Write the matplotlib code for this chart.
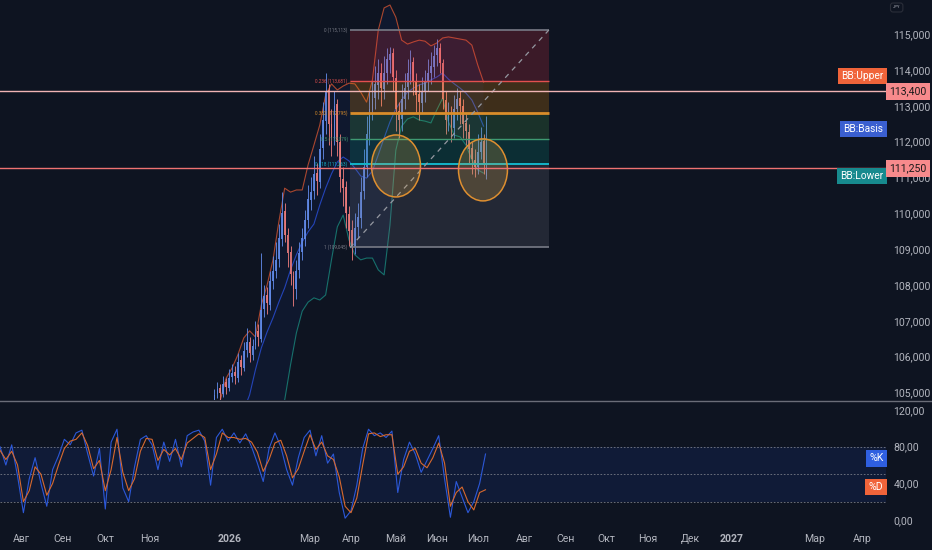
import numpy as np
import matplotlib
matplotlib.use('Agg')
import matplotlib.pyplot as plt
from matplotlib.patches import Ellipse
from matplotlib.lines import Line2D

plt.rcParams['font.family'] = ['Roboto', 'DejaVu Sans']

# ---------------- data ----------------
# time axis: trading-session index
month_pos = [11, 32, 54, 77, 118, 159, 180, 203, 224, 245, 269, 290, 311, 332, 354, 375, 418, 442]
month_lbl = ['Авг', 'Сен', 'Окт', 'Ноя', '2026', 'Мар', 'Апр', 'Май', 'Июн', 'Июл',
             'Авг', 'Сен', 'Окт', 'Ноя', 'Дек', '2027', 'Мар', 'Апр']

candle_start, candle_step = 110, 1.5
opens_k = [104.80,104.95,105.12,104.96,105.28,105.12,105.42,105.58,105.40,105.90,
           105.68,106.18,106.42,106.05,106.33,106.72,106.50,107.33,107.72,107.45,
           108.12,108.38,108.72,109.28,110.05,109.38,108.92,108.25,107.88,108.42,
           108.92,109.28,109.82,110.38,110.62,111.12,110.88,111.82,112.58,113.45,
           112.48,112.08,113.05,111.98,110.95,110.72,109.98,109.52,109.05,109.62,
           109.88,110.62,111.28,112.22,112.88,113.22,113.58,113.92,113.48,113.92,
           114.28,114.48,113.78,112.85,112.62,113.18,113.52,113.88,114.22,113.68,
           113.32,113.08,113.42,113.68,113.92,114.08,114.42,114.62,114.18,113.15,
           112.58,112.82,112.38,112.92,113.22,112.98,112.52,112.28,111.82,111.48,
           111.28,111.72,112.02,111.05]
highs_k = [105.10,105.30,105.25,105.45,105.40,105.65,105.80,105.75,106.10,106.05,
           106.40,106.80,106.55,106.50,107.00,106.90,108.90,108.00,107.95,108.40,
           108.80,109.20,109.70,110.60,110.30,109.60,109.10,108.40,108.70,109.20,
           109.60,110.10,110.80,111.00,111.60,111.40,112.20,113.10,113.90,113.60,
           112.90,113.40,113.20,112.20,111.30,110.90,110.20,109.80,110.00,110.30,
           111.00,111.80,112.70,113.40,113.70,114.10,114.30,114.20,114.40,114.60,
           114.65,114.60,114.00,113.10,113.60,113.90,114.30,114.55,114.35,113.90,
           113.60,113.80,114.00,114.30,114.50,114.70,114.85,114.75,114.30,113.40,
           113.10,113.00,113.30,113.50,113.40,113.20,112.80,112.50,112.00,111.80,
           112.20,112.40,112.20,112.70]
lows_k = [104.70,104.85,104.80,104.88,104.95,105.05,105.30,105.25,105.30,105.50,
          105.60,106.00,105.85,105.90,106.20,106.30,106.40,107.10,107.20,107.30,
          107.90,108.20,108.50,109.10,109.20,108.50,108.00,107.40,107.60,108.20,
          108.70,109.10,109.60,110.10,110.40,110.50,110.70,111.50,112.20,111.90,
          111.60,111.90,111.60,110.60,110.20,109.60,109.10,108.70,108.85,109.30,
          109.60,110.40,111.00,111.90,112.60,112.90,113.20,113.00,113.20,113.60,
          113.90,113.40,112.30,112.10,112.30,112.90,113.20,113.60,113.30,112.80,
          112.60,112.80,113.10,113.40,113.60,113.80,114.10,113.90,112.90,112.20,
          112.30,112.00,112.10,112.60,112.50,112.10,111.90,111.40,111.10,111.00,
          111.10,111.50,111.10,110.95]
closes_k = [104.93,105.10,104.98,105.25,105.15,105.40,105.55,105.45,105.85,105.70,
            106.15,106.40,106.10,106.30,106.70,106.55,107.30,107.70,107.50,108.10,
            108.40,108.70,109.30,110.00,109.40,108.90,108.30,107.90,108.40,108.90,
            109.30,109.80,110.40,110.60,111.10,110.90,111.80,112.60,113.40,112.50,
            112.10,113.00,112.00,111.00,110.70,110.00,109.50,109.10,109.60,109.90,
            110.60,111.30,112.20,112.90,113.20,113.60,113.90,113.50,113.90,114.30,
            114.45,113.80,112.90,112.60,113.20,113.50,113.90,114.20,113.70,113.30,
            113.10,113.40,113.70,113.90,114.10,114.40,114.60,114.20,113.20,112.60,
            112.80,112.40,112.90,113.20,113.00,112.50,112.30,111.80,111.50,111.30,
            111.70,112.00,111.40,111.25]

# Bollinger bands (every 3 sessions starting at candle_start)
bb_step = 3
bb_upper_k = [104.37,104.79,105.40,105.68,106.05,106.52,106.72,106.55,107.44,108.00,
              108.70,109.76,110.70,110.59,110.65,110.65,111.35,111.90,112.46,113.30,
              113.61,113.44,113.55,113.63,113.61,113.38,113.10,113.72,115.11,115.73,
              115.81,115.47,114.83,114.72,114.78,114.83,114.80,114.67,114.75,114.89,
              114.92,114.89,114.86,114.83,114.69,114.14,113.66]
bb_basis_k = [102.28,102.84,103.26,103.68,104.09,104.51,104.93,105.63,106.24,106.69,
              107.08,107.52,107.92,108.42,108.84,109.20,109.48,109.70,110.23,110.70,
              111.10,111.43,111.57,111.46,111.26,111.04,110.98,111.18,111.63,112.10,
              112.55,112.91,113.16,113.38,113.49,113.58,113.63,113.72,113.80,113.91,
              113.74,113.61,113.49,113.35,113.16,112.82,112.43]
bb_lower_k = [100.33,100.61,100.89,101.16,101.44,101.86,102.28,102.84,103.26,103.68,
              104.09,104.43,104.79,105.77,106.66,107.27,107.52,107.64,107.58,107.72,
              108.70,109.62,109.95,109.25,108.84,108.70,108.75,108.75,108.42,108.28,
              109.67,111.76,112.43,112.63,112.69,112.60,112.57,112.52,112.88,113.21,
              112.55,112.18,112.13,111.90,111.49,111.21,111.12]

# Fibonacci retracement
fib_start, fib_end = 179.5, 281.5
fib_high, fib_low = 115113, 109045
fib_levels = [115113, 113681, 112795, 112079, 111363, 109045]
fib_names = ['0', '0.236', '0.382', '0.5', '0.618', '1']

# highlighted zones (ellipses): session centre, price centre
circ_x = [203.1, 247.7]
circ_y = [111320, 111210]

# horizontal levels
level_hi, level_lo = 113400, 111250

# Stochastic (every 3 sessions from 0)
st_step = 3
stoch_k = [80,60,82,48,8,45,68,40,15,55,70,88,82,95,98,72,48,78,12,85,
           99,35,20,58,88,92,82,55,85,64,88,58,92,96,98,86,38,90,99,86,
           95,84,94,80,62,42,78,95,80,55,38,68,90,98,70,92,62,72,30,2,
           10,38,78,99,92,95,90,97,30,66,85,72,52,65,78,92,45,3,42,25,
           8,20,40,72]
stoch_d = [76,66,75,60,20,32,58,50,27,40,60,78,86,88,95,81,56,65,32,55,
           90,52,32,45,75,89,88,65,77,71,78,66,84,89,94,90,55,72,95,90,
           90,88,89,85,74,53,66,84,87,70,46,56,75,93,77,85,70,66,47,15,
           8,24,60,94,95,91,93,93,50,58,75,78,62,57,68,84,62,15,30,36,
           20,11,30,33]

price_ticks = list(range(105000, 115001, 1000))
stoch_ticks = [0, 40, 80, 120]

# ---------------- style ----------------
BG = '#0e1421'
TXT = '#b2b5be'
UP = '#6189e6'
DN = '#ea7b7b'

W, H = 932, 550
fig = plt.figure(figsize=(W / 100, H / 100), dpi=100, facecolor=BG)
pw = 886 / W
ax = fig.add_axes([0, 1 - 400 / H, pw, 400 / H], facecolor=BG)
ax2 = fig.add_axes([0, 1 - 527 / H, pw, 126 / H], facecolor=BG)

xmax = 454.4
for a in (ax, ax2):
    a.set_xlim(0, xmax)
    for s in a.spines.values():
        s.set_visible(False)
    a.yaxis.tick_right()
    a.tick_params(axis='y', length=0, pad=5.5, labelcolor=TXT, labelsize=7.6)

ax.set_ylim(104790, 115950)
ax2.set_ylim(-7.6, 129.8)

# candles
o = np.array(opens_k) * 1000
h = np.array(highs_k) * 1000
l = np.array(lows_k) * 1000
c = np.array(closes_k) * 1000
cx = candle_start + candle_step * np.arange(len(c))
cols = [UP if cc >= oo else DN for oo, cc in zip(o, c)]
ax.vlines(cx, l, h, colors=cols, lw=0.7, zorder=3, alpha=0.9)
ax.bar(cx, np.maximum(np.abs(c - o), 25), bottom=np.minimum(o, c), width=0.9,
       color=cols, linewidth=0, zorder=3, alpha=0.9)

# Bollinger
bx = candle_start + bb_step * np.arange(len(bb_upper_k))
bu = np.array(bb_upper_k) * 1000
bm = np.array(bb_basis_k) * 1000
bl = np.array(bb_lower_k) * 1000
ax.fill_between(bx, bl, bu, color='#2962ff', alpha=0.06, lw=0, zorder=1)
ax.plot(bx, bu, color='#a9472f', lw=0.8, zorder=2)
ax.plot(bx, bm, color='#2444b8', lw=0.8, zorder=2)
ax.plot(bx, bl, color='#17706c', lw=0.8, zorder=2)

# Fibonacci
zone_cols = ['#f23645', '#ff9800', '#4caf50', '#089981', '#787b86']
line_cols = ['#787b86', '#e2504f', '#d98d2a', '#3f9a72', '#14b4c8', '#787b86']
line_w = [1.2, 1.0, 2.0, 1.0, 1.4, 1.2]
for k in range(5):
    ax.fill_between([fib_start, fib_end], fib_levels[k + 1], fib_levels[k],
                    color=zone_cols[k], alpha=0.2, lw=0, zorder=4)
for k in range(6):
    ax.hlines(fib_levels[k], fib_start, fib_end, color=line_cols[k], lw=line_w[k], zorder=5)
    ax.text(fib_start - 1.2, fib_levels[k], f"{fib_names[k]} ({fib_levels[k]:,})",
            ha='right', va='center', fontsize=3.3, color=line_cols[k], zorder=6)
ax.plot([fib_start, fib_end], [fib_low, fib_high], color='#9598a1', lw=0.9,
        dashes=(4, 4), zorder=5)

# ellipses
for ex, ey in zip(circ_x, circ_y):
    ax.add_patch(Ellipse((ex, ey), width=25.1, height=1730, facecolor=(0.9, 0.68, 0.28, 0.22),
                         edgecolor='#de8f30', lw=1.1, zorder=6))

# horizontal lines
ax.axhline(level_hi, color='#f0b4b4', lw=1.0, zorder=7)
ax.axhline(level_lo, color='#ee7272', lw=1.0, zorder=7)

# ticks
ax.set_xticks([])
ax.set_yticks(price_ticks)
ax.set_yticklabels([f"{v:,}" for v in price_ticks])

# right labels on price pane
def tag(a, x, y, s, fc, tc, ha='right', fs=7.3):
    a.text(x, y, s, transform=a.get_yaxis_transform(), ha=ha, va='center',
           fontsize=fs, color=tc, clip_on=False, zorder=20,
           bbox=dict(boxstyle='square,pad=0.32', fc=fc, ec='none'))

tag(ax, 0.997, 113830, 'BB:Upper', '#f0643a', 'white')
tag(ax, 0.997, 112350, 'BB:Basis', '#3a5fd0', 'white')
tag(ax, 0.997, 111040, 'BB:Lower', '#178a8e', 'white')
tag(ax, 1.0245, level_hi, f"{level_hi:,}", '#f78a8c', '#1a1a1a', ha='center', fs=7.6)
tag(ax, 1.0245, level_lo, f"{level_lo:,}", '#f78a8c', '#1a1a1a', ha='center', fs=7.6)

# JPY box
fig.text(893 / W, 1 - 7.5 / H, 'JPY', fontsize=3, color=TXT, ha='left', va='center',
         bbox=dict(boxstyle='round,pad=0.6', fc=BG, ec='#2a2e39', lw=0.8))

# Stochastic pane
ax2.fill_between([0, xmax], 20, 80, color='#2962ff', alpha=0.1, lw=0, zorder=1)
for v in (80, 50, 20):
    ax2.axhline(v, color='#787b86', lw=0.6, dashes=(2, 2), zorder=2)
sx = st_step * np.arange(len(stoch_k))
ax2.plot(sx, stoch_k, color='#2c58d8', lw=0.8, zorder=3)
ax2.plot(sx, stoch_d, color='#d8692e', lw=0.8, zorder=4)
ax2.set_yticks(stoch_ticks)
ax2.set_yticklabels([f"{v},00" for v in stoch_ticks])
tag(ax2, 0.997, 67.5, '%K', '#2f5fe0', 'white', fs=7.6)
tag(ax2, 0.997, 36, '%D', '#f0643a', 'white', fs=7.6)

ax2.set_xticks(month_pos)
ax2.set_xticklabels(month_lbl)
ax2.tick_params(axis='x', length=0, pad=5, labelcolor=TXT, labelsize=7.6)
for t, s in zip(ax2.get_xticklabels(), month_lbl):
    if s.isdigit():
        t.set_fontweight('bold')

# pane separator
fig.add_artist(Line2D([0, 1], [1 - 400.5 / H] * 2, color='#6a6d78', lw=1.0))

fig.savefig('out.png', dpi=100, facecolor=BG)
